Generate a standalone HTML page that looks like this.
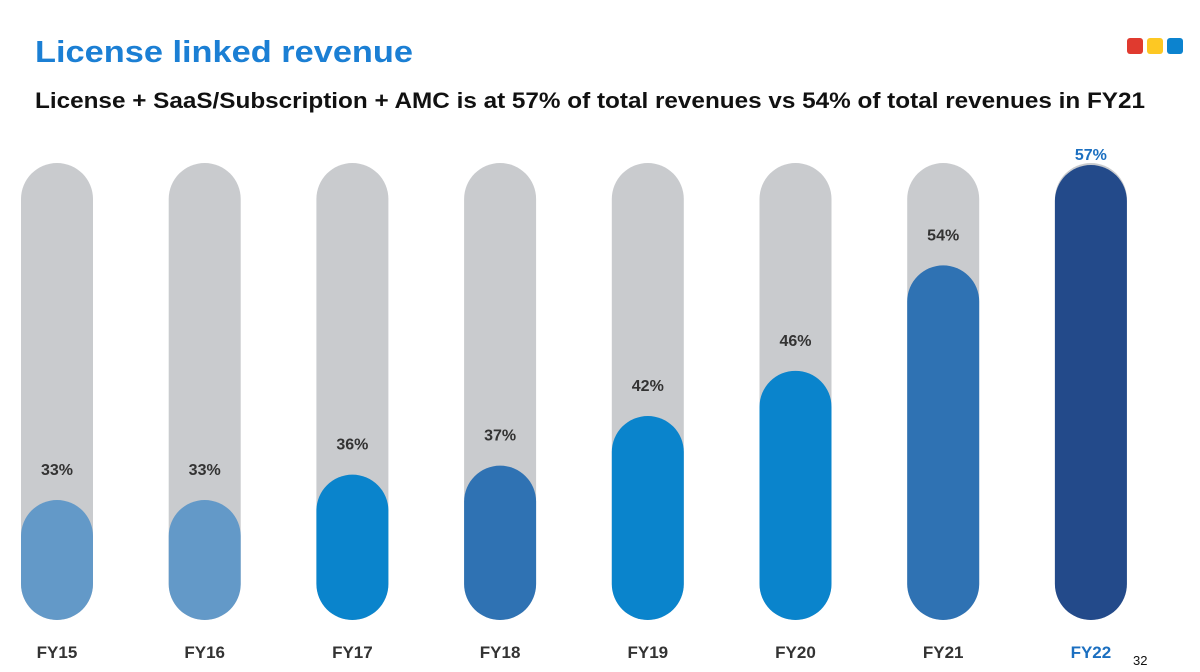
<!DOCTYPE html>
<html><head><meta charset="utf-8"><style>
body{margin:0;background:#fff;}
svg{display:block;font-family:"Liberation Sans",Arial,sans-serif;}
</style></head><body>
<svg id="c" width="1200" height="672">
<text x="35" y="62" font-size="31" font-weight="bold" fill="#1b7fd4" textLength="378" lengthAdjust="spacingAndGlyphs">License linked revenue</text>
<text x="35" y="108" font-size="22" font-weight="bold" fill="#111" textLength="1110" lengthAdjust="spacingAndGlyphs">License + SaaS/Subscription + AMC is at 57% of total revenues vs 54% of total revenues in FY21</text>
<rect x="1127" y="38" width="16" height="16" rx="3" fill="#e03a2f"/>
<rect x="1147" y="38" width="16" height="16" rx="3" fill="#fdc823"/>
<rect x="1167" y="38" width="16" height="16" rx="3" fill="#0c83cf"/>
<text x="1133" y="665" font-size="13" fill="#111">32</text>
<g id="bars"></g>
</svg>
<script>
const categories=["FY15","FY16","FY17","FY18","FY19","FY20","FY21","FY22"];
const values=[33,33,36,37,42,46,54,57];
const valueLabels=["33%","33%","36%","37%","42%","46%","54%","57%"];
const colors=["#6399c8","#6399c8","#0a84cc","#2f72b3","#0a84cc","#0a84cc","#2f72b3","#234a8a"];
const NS="http://www.w3.org/2000/svg";
const g=document.getElementById('bars');
const bottomY=620, trackTop=163, barW=72;
const maxV=Math.max(...values);
function xPos(i){return 57+i*147.7;}
function hScale(v){
  if(v>=maxV) return bottomY-trackTop-2;
  return Math.min(bottomY-trackTop,120*Math.pow(v/33,2.2));
}
function mk(t,a){const e=document.createElementNS(NS,t);for(const k in a)e.setAttribute(k,a[k]);g.appendChild(e);return e;}
categories.forEach((c,i)=>{
  const cx=xPos(i), last=i===categories.length-1;
  const bg=mk('rect',{x:cx-barW/2,y:trackTop,width:barW,height:bottomY-trackTop,rx:36,fill:'#c9cbce'});
  
  
  const h=hScale(values[i]);
  const b=mk('rect',{x:cx-barW/2,y:bottomY-h,width:barW,height:h,rx:36,fill:colors[i]});
  
  
  const l=mk('text',{x:cx,y:Math.max(bottomY-h-25,160),'text-anchor':'middle','font-size':16,'font-weight':'bold',fill:last?'#1b6fc0':'#333'});
  l.textContent=valueLabels[i];
  
  
  const t=mk('text',{x:cx,y:658,'text-anchor':'middle','font-size':17,'font-weight':'bold',fill:last?'#1b6fc0':'#333'});
  t.textContent=c;
  
  
});
</script>
</body></html>
